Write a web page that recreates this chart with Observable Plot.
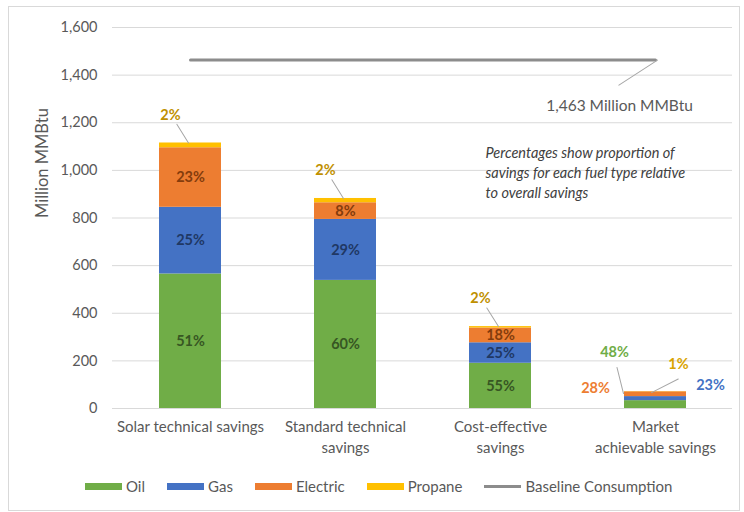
<!DOCTYPE html>
<html><head><meta charset="utf-8">
<script src="https://cdn.jsdelivr.net/npm/d3@7"></script>
<script src="https://cdn.jsdelivr.net/npm/@observablehq/plot@0.6"></script>
<style>
body{margin:0;background:#fff;font-family:Lato,"Open Sans",sans-serif;width:744px;height:512px;position:relative;overflow:hidden;}
#frame{position:absolute;left:8px;top:6px;width:732px;height:505px;border:1px solid #d9d9d9;box-sizing:border-box;}
#chart{position:absolute;left:0;top:0;}
#legend{position:absolute;top:477px;left:85px;display:flex;align-items:center;gap:22px;font-size:15px;color:#595959;}
#legend .item{display:flex;align-items:center;gap:4px;}
#legend .sw{width:37px;height:7px;display:inline-block;}
#legend .ln{width:37px;height:3px;display:inline-block;}
</style></head>
<body>
<div id="frame"></div>
<div id="chart"></div>
<div id="legend"></div>
<script>
const categories = ["Solar technical savings","Standard technical savings","Cost-effective savings","Market achievable savings"];
const axisLabels = ["Solar technical savings","Standard technical\nsavings","Cost-effective\nsavings","Market\nachievable savings"];
const fuels = ["Oil","Gas","Electric","Propane"];
const oil = [565, 538, 190, 33];
const gas = [280, 256, 86, 17];
const electric = [250, 70, 62, 20];
const propane = [20, 18, 6, 1];
const pctOil = ["51%","60%","55%","48%"];
const pctGas = ["25%","29%","25%","23%"];
const pctElectric = ["23%","8%","18%","28%"];
const pctPropane = ["2%","2%","2%","1%"];
const baseline = 1463;
const baselineLabel = "1,463 Million MMBtu";
const baselineName = "Baseline Consumption";
const yTitle = "Million MMBtu";
const yTicks = [0,200,400,600,800,1000,1200,1400,1600];
const noteLines = "Percentages show proportion of\nsavings for each fuel type relative\nto overall savings";

const fuelColors = ["#70AD47","#4472C4","#ED7D31","#FFC000"];
const labelColors = {Oil:"#375623", Gas:"#203864", Electric:"#843C0C", Propane:"#BF9000"};

const series = [oil, gas, electric, propane];
const pcts = [pctOil, pctGas, pctElectric, pctPropane];
const rows = [];
categories.forEach((c, i) => fuels.forEach((f, j) => rows.push({cat: c, fuel: f, value: series[j][i], pct: pcts[j][i], i})));
const totals = categories.map((c, i) => ({cat: c, total: oil[i] + gas[i] + electric[i] + propane[i], i}));
const mkt = totals[3];
const mi = 3;

const leader = {draw(ctx, l) { ctx.moveTo(0, 0); ctx.lineTo(0, -l); }};
const leaderStyle = {stroke: "#A6A6A6", strokeWidth: 1, anchor: "start", shape: leader};
const lbl = {fontSize: 14.5, fontWeight: "bold"};
const fmt = d3.format(",.0f");

const plot = Plot.plot({
  width: 744, height: 470,
  marginLeft: 112, marginRight: 12, marginTop: 27, marginBottom: 62,
  style: {fontFamily: "Lato, 'Open Sans', sans-serif", color: "#595959", background: "none"},
  x: {domain: categories, paddingInner: 0.6, paddingOuter: 0.3, label: null},
  y: {domain: [0, 1600], label: null},
  color: {domain: fuels, range: fuelColors},
  marks: [
    Plot.gridY(yTicks, {stroke: "#D9D9D9", strokeOpacity: 1}),
    Plot.axisY(yTicks, {tickFormat: fmt, tickSize: 0, tickPadding: 15, fontSize: 14.5, label: null}),
    Plot.text([yTitle], {frameAnchor: "left", text: (d) => d, rotate: -90, dx: -70, fontSize: 16.5, fill: "#595959"}),
    Plot.axisX({tickSize: 0, tickPadding: 9, fontSize: 15, lineHeight: 1.4, tickFormat: (d) => axisLabels[categories.indexOf(d)]}),
    Plot.barY(rows, {x: "cat", y: "value", fill: "fuel"}),
    Plot.text(rows, Plot.stackY({x: "cat", y: "value", text: (d) => (d.i < 3 && d.fuel !== "Propane") ? d.pct : null,
      fill: (d) => labelColors[d.fuel], ...lbl})),
    // propane labels above first three bars
    Plot.vector(totals.slice(0, 3), {x: "cat", y: "total", dx: -2, length: 22, rotate: -32, ...leaderStyle}),
    Plot.text(totals.slice(0, 3), {x: "cat", y: "total", text: (d) => pctPropane[d.i], dx: -20, dy: -28, fill: labelColors.Propane, ...lbl}),
    // market achievable labels
    Plot.vector([mkt], {x: "cat", y: "total", dx: -32, dy: 2, length: 27, rotate: -14, ...leaderStyle}),
    Plot.vector([mkt], {x: "cat", y: "total", dx: -4, dy: 1, length: 30, rotate: 63, ...leaderStyle}),
    Plot.text([mkt], {x: "cat", y: "total", text: () => pctOil[mi], dx: -41, dy: -39, fill: fuelColors[0], ...lbl}),
    Plot.text([mkt], {x: "cat", y: "total", text: () => pctElectric[mi], dx: -60, dy: -3, fill: fuelColors[2], ...lbl}),
    Plot.text([mkt], {x: "cat", y: "total", text: () => pctPropane[mi], dx: 23, dy: -27, fill: "#D9A400", ...lbl}),
    Plot.text([mkt], {x: "cat", y: "total", text: () => pctGas[mi], dx: 55, dy: -6, fill: "#4472C4", ...lbl}),
    // baseline consumption
    Plot.lineY([{cat: categories[0], v: baseline}, {cat: categories[3], v: baseline}], {x: "cat", y: "v", stroke: "#8C8C8C", strokeWidth: 3}),
    Plot.vector([{cat: categories[3], v: baseline}], {x: "cat", y: "v", dx: 2, length: 46, rotate: -123, ...leaderStyle}),
    Plot.text([{cat: categories[3], v: baseline}], {x: "cat", y: "v", text: () => baselineLabel, dx: -36, dy: 46, fill: "#595959", fontSize: 15.5}),
    // note
    Plot.text([noteLines], {frameAnchor: "top-left", text: (d) => d, dx: 373, dy: 117, textAnchor: "start", lineAnchor: "top", lineHeight: 1.35, fontSize: 14.5, fontStyle: "italic", fill: "#404040"})
  ]
});
document.getElementById("chart").appendChild(plot);

const legend = document.getElementById("legend");
fuels.forEach((f, j) => {
  const it = document.createElement("div"); it.className = "item";
  it.innerHTML = `<span class="sw" style="background:${fuelColors[j]}"></span><span>${f}</span>`;
  legend.appendChild(it);
});
const it = document.createElement("div"); it.className = "item";
it.innerHTML = `<span class="ln" style="background:#8C8C8C"></span><span>${baselineName}</span>`;
legend.appendChild(it);
</script>
</body></html>
